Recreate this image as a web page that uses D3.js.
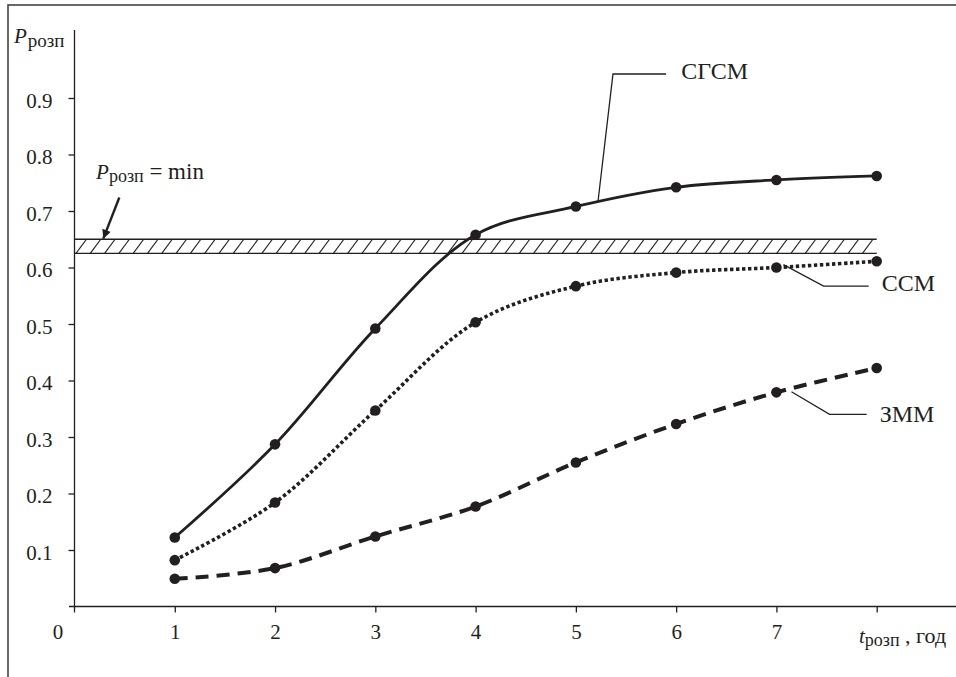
<!DOCTYPE html>
<html>
<head>
<meta charset="utf-8">
<script src="https://cdn.jsdelivr.net/npm/d3@7"></script>
<style>
  body { margin: 0; background: #fff; }
  svg { display: block; }
  svg text { font-family: "Times New Roman", "Liberation Serif", "DejaVu Serif", serif; }
</style>
</head>
<body>
<div id="chart"></div>
<script>
// data
const years = [1, 2, 3, 4, 5, 6, 7, 8];
const sgsm = [0.122, 0.287, 0.492, 0.658, 0.708, 0.742, 0.755, 0.762];
const ssm  = [0.082, 0.184, 0.347, 0.503, 0.567, 0.591, 0.600, 0.611];
const zmm  = [0.049, 0.068, 0.124, 0.177, 0.255, 0.323, 0.379, 0.422];
const yTicks = [0.1, 0.2, 0.3, 0.4, 0.5, 0.6, 0.7, 0.8, 0.9];
const xTicks = [1, 2, 3, 4, 5, 6, 7, 8];
const xTickLabels = ["1", "2", "3", "4", "5", "6", "7", ""];
const pMinBand = [0.625, 0.65];

const ink = "#231f20";

const W = 956, H = 677;
const svg = d3.select("#chart").append("svg")
  .attr("width", W).attr("height", H);

// frame
svg.append("rect")
  .attr("x", 8).attr("y", 5).attr("width", 1000).attr("height", 1000)
  .attr("fill", "none").attr("stroke", "#444").attr("stroke-width", 1.6);

const x = d3.scaleLinear().domain([0, 8]).range([74.5, 876.7]);
const y = d3.scaleLinear().domain([0, 0.9]).range([606.5, 98]);

// axes lines
svg.append("line")
  .attr("x1", 69).attr("x2", 956).attr("y1", y(0)).attr("y2", y(0))
  .attr("stroke", ink).attr("stroke-width", 1.3);
svg.append("line")
  .attr("x1", x(0)).attr("x2", x(0)).attr("y1", 30).attr("y2", y(0) + 6)
  .attr("stroke", ink).attr("stroke-width", 1.3);

// X axis
svg.append("g")
  .attr("transform", `translate(0,${y(0)})`)
  .call(d3.axisBottom(x).tickValues(xTicks).tickSize(6).tickPadding(12)
    .tickFormat((d, i) => xTickLabels[i]))
  .call(g => g.select(".domain").remove())
  .call(g => g.selectAll("line").attr("stroke", ink).attr("stroke-width", 1.3))
  .call(g => g.selectAll("text").attr("fill", ink).attr("font-size", 21));

// Y axis
svg.append("g")
  .attr("transform", `translate(${x(0)},0)`)
  .call(d3.axisLeft(y).tickValues(yTicks).tickSize(6).tickPadding(16)
    .tickFormat(d3.format(".1f")))
  .call(g => g.select(".domain").remove())
  .call(g => g.selectAll("line").attr("stroke", ink).attr("stroke-width", 1.3))
  .call(g => g.selectAll("text").attr("fill", ink).attr("dy", "0.43em")
    .attr("font-size", 21));

// origin label
svg.append("text")
  .attr("x", 58).attr("y", 639)
  .attr("text-anchor", "middle").attr("font-size", 21).attr("fill", ink)
  .text("0");

// axis titles
const yTitle = svg.append("text").attr("x", 14).attr("y", 43).attr("fill", ink);
yTitle.append("tspan").attr("font-style", "italic").attr("font-size", 21).text("P");
yTitle.append("tspan").attr("font-size", 19).attr("dy", 4).attr("dx", 1).text("розп");

const xTitle = svg.append("text").attr("x", 859).attr("y", 643).attr("fill", ink);
xTitle.append("tspan").attr("font-style", "italic").attr("font-size", 21).text("t");
xTitle.append("tspan").attr("font-size", 18).attr("dy", 3).attr("dx", 0).text("розп");
xTitle.append("tspan").attr("font-size", 22).attr("dy", -3).text(" , год");

// P = min band with hatching
const bandTop = y(pMinBand[1]), bandBot = y(pMinBand[0]);
const bandX0 = x(0), bandX1 = x(8);
svg.append("clipPath").attr("id", "bandClip")
  .append("rect")
    .attr("x", bandX0).attr("y", bandTop)
    .attr("width", bandX1 - bandX0).attr("height", bandBot - bandTop);
const hatchStarts = d3.range(bandX0 + 1.5 - 14.3, bandX1 + 14, 14.3);
svg.append("g").attr("clip-path", "url(#bandClip)")
  .selectAll("line").data(hatchStarts).enter().append("line")
    .attr("x1", d => d).attr("y1", bandBot)
    .attr("x2", d => d + 10.5).attr("y2", bandTop)
    .attr("stroke", ink).attr("stroke-width", 1.1);
[bandTop, bandBot].forEach(v => {
  svg.append("line")
    .attr("x1", bandX0).attr("x2", bandX1).attr("y1", v).attr("y2", v)
    .attr("stroke", ink).attr("stroke-width", 1.3);
});

// P = min label + arrow
const pLabel = svg.append("text").attr("x", x(0.215)).attr("y", y(0.757)).attr("fill", ink);
pLabel.append("tspan").attr("font-style", "italic").attr("font-size", 21).text("P");
pLabel.append("tspan").attr("font-size", 18).attr("dy", 3).attr("dx", 0).text("розп");
pLabel.append("tspan").attr("font-size", 23).attr("dy", -3).text(" = min");

svg.append("defs").append("marker")
  .attr("id", "arrowHead")
  .attr("viewBox", "0 0 10 10").attr("refX", 10).attr("refY", 5)
  .attr("markerWidth", 12).attr("markerHeight", 9).attr("markerUnits", "userSpaceOnUse")
  .attr("orient", "auto")
  .append("path").attr("d", "M0,0 L10,5 L0,10 Z").attr("fill", ink);
svg.append("line")
  .attr("x1", x(0.447)).attr("y1", y(0.724))
  .attr("x2", x(0.287)).attr("y2", y(0.651))
  .attr("stroke", ink).attr("stroke-width", 2.4)
  .attr("marker-end", "url(#arrowHead)");

// series
const series = [
  { name: "СГСМ", values: sgsm, width: 2.8, dash: null },
  { name: "ССМ", values: ssm, width: 3.6, dash: "3.4,2.6" },
  { name: "ЗММ", values: zmm, width: 4, dash: "13,8" }
];

const line = d3.line()
  .x((d, i) => x(years[i]))
  .y(d => y(d))
  .curve(d3.curveCatmullRom.alpha(0.5));

series.forEach(s => {
  svg.append("path")
    .datum(s.values)
    .attr("fill", "none")
    .attr("stroke", ink)
    .attr("stroke-width", s.width)
    .attr("stroke-dasharray", s.dash)
    .attr("d", line);
  svg.append("g").selectAll("circle")
    .data(s.values).enter().append("circle")
      .attr("cx", (d, i) => x(years[i]))
      .attr("cy", d => y(d))
      .attr("r", 5.3)
      .attr("fill", ink);
});

// leader lines and series labels
const leaders = [
  { name: "СГСМ", pts: [[5.22, 0.716], [5.37, 0.9425], [5.9, 0.9425]], tx: 6.05, ty: 0.933 },
  { name: "ССМ", pts: [[7.07, 0.605], [7.47, 0.567], [7.92, 0.567]], tx: 8.05, ty: 0.559 },
  { name: "ЗММ", pts: [[7.15, 0.38], [7.53, 0.34], [7.9, 0.34]], tx: 8.03, ty: 0.327 }
];
leaders.forEach(l => {
  svg.append("path")
    .attr("d", d3.line().x(p => x(p[0])).y(p => y(p[1]))(l.pts))
    .attr("fill", "none").attr("stroke", ink).attr("stroke-width", 1.3);
  svg.append("text")
    .attr("x", x(l.tx)).attr("y", y(l.ty))
    .attr("font-size", 24).attr("fill", ink)
    .text(l.name);
});
</script>
</body>
</html>
